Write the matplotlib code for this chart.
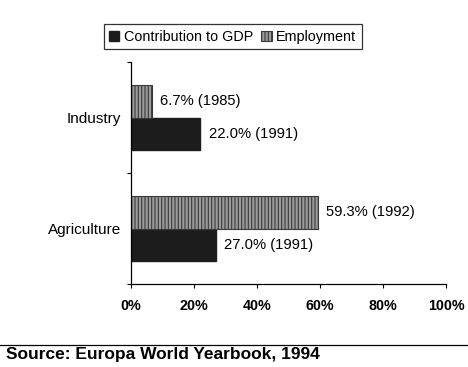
import matplotlib.pyplot as plt
import numpy as np

# Data
categories = ['Agriculture', 'Industry']
gdp_share = [27.0, 22.0]
employment_share = [59.3, 6.7]
gdp_labels = ['27.0% (1991)', '22.0% (1991)']
employment_labels = ['59.3% (1992)', '6.7% (1985)']
x_ticks = [0, 20, 40, 60, 80, 100]
x_tick_labels = ['0%', '20%', '40%', '60%', '80%', '100%']

plt.rcParams['font.family'] = ['Liberation Sans', 'DejaVu Sans']
plt.rcParams['hatch.color'] = '#3a3a3a'
plt.rcParams['hatch.linewidth'] = 0.8

fig = plt.figure(figsize=(4.68, 3.67), dpi=100)
ax = fig.add_axes([0.280, 0.226, 0.673, 0.605])

y = np.arange(len(categories)) + 0.5
h = 0.29

gdp_bars = ax.barh(y - h / 2, gdp_share, h, color='#1c1c1c', edgecolor='#1c1c1c',
                   label='Contribution to GDP')
emp_bars = ax.barh(y + h / 2, employment_share, h, color='#9a9a9a', edgecolor='#3a3a3a',
                   hatch='|||||', linewidth=0.8, label='Employment')

for bar, txt in zip(gdp_bars, gdp_labels):
    ax.annotate(txt, (bar.get_width(), bar.get_y() + bar.get_height() / 2),
                xytext=(6, 0), textcoords='offset points', va='center', ha='left',
                fontsize=10.6)
for bar, txt in zip(emp_bars, employment_labels):
    ax.annotate(txt, (bar.get_width(), bar.get_y() + bar.get_height() / 2),
                xytext=(6, 0), textcoords='offset points', va='center', ha='left',
                fontsize=10.6)

ax.set_xlim(0, 100)
ax.set_ylim(0, 2)
ax.set_xticks(x_ticks)
ax.set_xticklabels(x_tick_labels, fontsize=10.3, fontweight='bold')
ax.tick_params(axis='x', length=3, width=0.8, pad=8)

ax.set_yticks([0, 1, 2])
ax.set_yticklabels([])
ax.set_yticks(y, minor=True)
ax.set_yticklabels(categories, minor=True, fontsize=11)
ax.tick_params(axis='y', which='major', length=3, width=0.8)
ax.tick_params(axis='y', which='minor', length=0, pad=7)

for side in ['top', 'right']:
    ax.spines[side].set_visible(False)
for side in ['left', 'bottom']:
    ax.spines[side].set_linewidth(0.9)

leg = fig.legend(handles=[gdp_bars, emp_bars], loc='center', ncol=2,
                 bbox_to_anchor=(0.497, 0.9), fontsize=10.4, frameon=True,
                 fancybox=False, edgecolor='black', handlelength=0.7,
                 handleheight=0.7, handletextpad=0.3, columnspacing=0.6,
                 borderpad=0.38, borderaxespad=0)
leg.get_frame().set_linewidth(0.9)

# Source line
fig.add_artist(plt.Line2D([0, 1], [1 - 345 / 367] * 2, color='black', lw=0.9,
                          transform=fig.transFigure))
fig.text(0.012, 1 - 354 / 367, 'Source: Europa World Yearbook, 1994',
         fontsize=12.5, fontweight='bold', va='center', ha='left')

fig.savefig('out.png', dpi=100)
